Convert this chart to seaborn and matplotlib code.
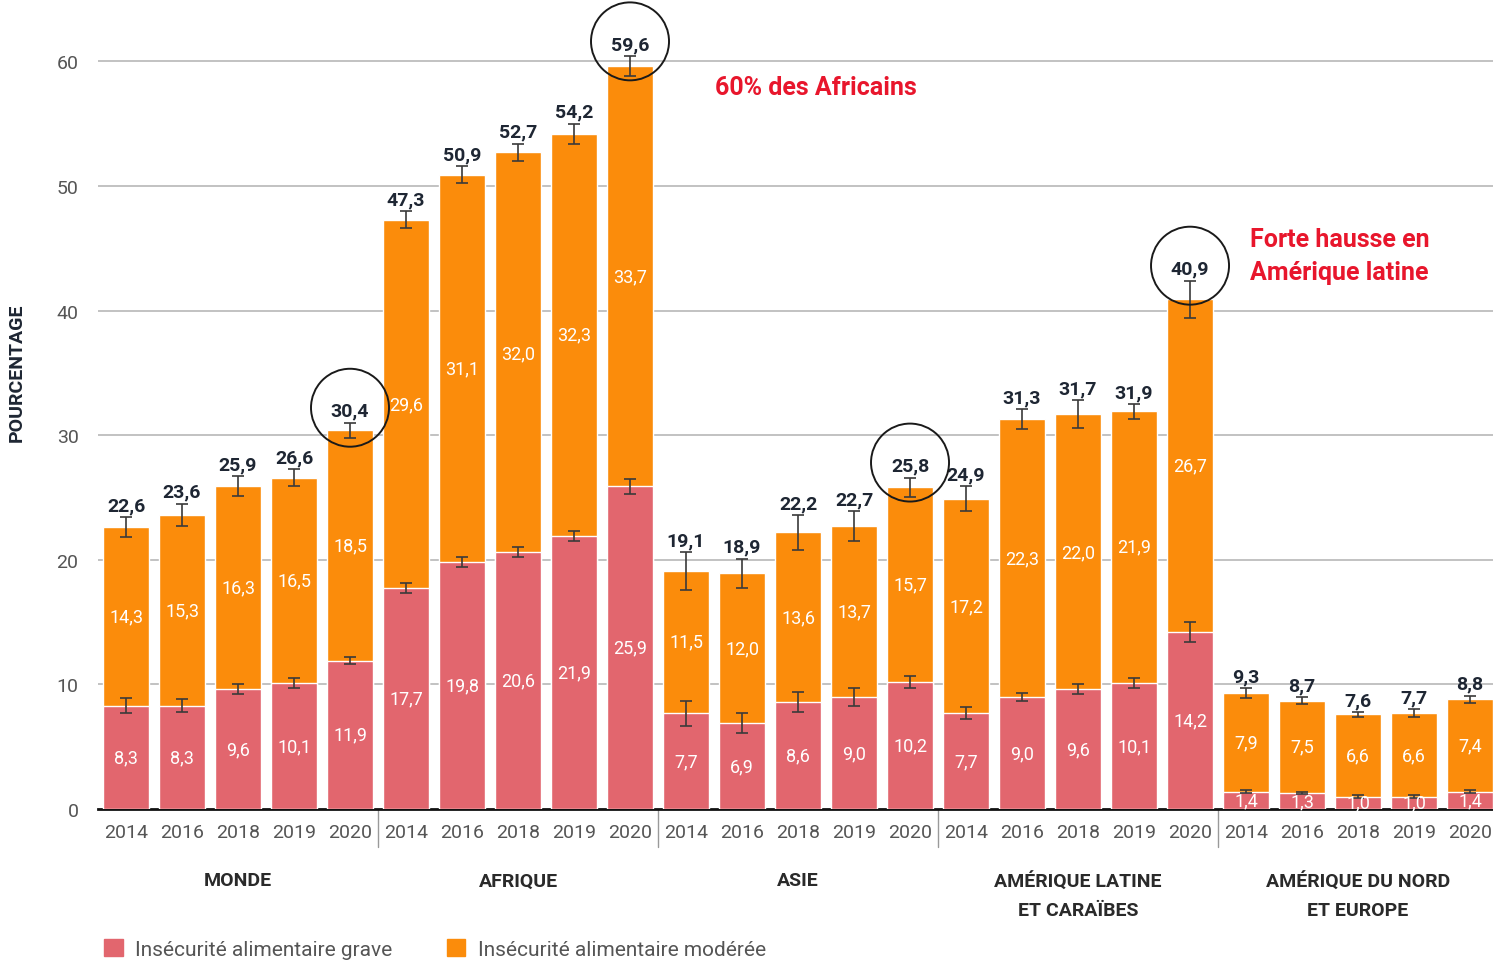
import matplotlib
matplotlib.use("Agg")
import matplotlib.pyplot as plt
from matplotlib.patches import Ellipse, Patch
from matplotlib.transforms import blended_transform_factory
import seaborn as sns
import pandas as pd
import numpy as np

# ---- data -------------------------------------------------------------
regions = ["MONDE", "AFRIQUE", "ASIE", "AMÉRIQUE LATINE\nET CARAÏBES",
           "AMÉRIQUE DU NORD\nET EUROPE"]
years = ["2014", "2016", "2018", "2019", "2020"]

grave = [8.3, 8.3, 9.6, 10.1, 11.9,
         17.7, 19.8, 20.6, 21.9, 25.9,
         7.7, 6.9, 8.6, 9.0, 10.2,
         7.7, 9.0, 9.6, 10.1, 14.2,
         1.4, 1.3, 1.0, 1.0, 1.4]
moderee = [14.3, 15.3, 16.3, 16.5, 18.5,
           29.6, 31.1, 32.0, 32.3, 33.7,
           11.5, 12.0, 13.6, 13.7, 15.7,
           17.2, 22.3, 22.0, 21.9, 26.7,
           7.9, 7.5, 6.6, 6.6, 7.4]
total = [22.6, 23.6, 25.9, 26.6, 30.4,
         47.3, 50.9, 52.7, 54.2, 59.6,
         19.1, 18.9, 22.2, 22.7, 25.8,
         24.9, 31.3, 31.7, 31.9, 40.9,
         9.3, 8.7, 7.6, 7.7, 8.8]
# margins of error (half-width) on the total and on the severe share
err_total = [0.8, 0.9, 0.8, 0.7, 0.6,
             0.7, 0.7, 0.7, 0.8, 0.8,
             1.5, 1.2, 1.4, 1.2, 0.8,
             1.0, 0.8, 1.1, 0.6, 1.5,
             0.4, 0.3, 0.2, 0.3, 0.3]
err_grave = [0.6, 0.5, 0.4, 0.4, 0.3,
             0.4, 0.4, 0.4, 0.4, 0.6,
             1.0, 0.8, 0.8, 0.7, 0.5,
             0.5, 0.3, 0.4, 0.4, 0.8,
             0.1, 0.1, 0.1, 0.1, 0.1]
circled = [4, 9, 14, 19]

# ---- style ------------------------------------------------------------
sns.set_theme(style="white")
plt.rcParams["font.family"] = ["Liberation Sans Narrow", "Roboto", "DejaVu Sans"]

col_grave = "#E2666E"
col_mod = "#FB8C0B"
col_text = "#1E2633"
col_grey = "#555555"

n = len(total)
df = pd.DataFrame({
    "pos": np.arange(n),
    "total": total,
    "grave": grave,
})

fig = plt.figure(figsize=(14.93, 9.62), dpi=100)
ax = fig.add_axes([98 / 1493, 152 / 962, 1 - 98 / 1493, 810 / 962])

for y in range(10, 70, 10):
    ax.axhline(y, color="#BDBDBD", lw=1.3, zorder=0)

sns.barplot(data=df, x="pos", y="total", order=list(range(n)), color=col_mod,
            width=0.82, saturation=1, errorbar=None, ax=ax, zorder=2)
sns.barplot(data=df, x="pos", y="grave", order=list(range(n)), color=col_grave,
            width=0.82, saturation=1, errorbar=None, ax=ax, zorder=3)

x = np.arange(n)
ekw = dict(fmt="none", ecolor="#3A3A3A", elinewidth=1.2, capsize=4,
           capthick=1.2, zorder=5)
ax.errorbar(x, total, yerr=err_total, **ekw)
ax.errorbar(x, grave, yerr=err_grave, **ekw)


def fr(v):
    return f"{v:.1f}".replace(".", ",")


for i in range(n):
    # inner segment values
    ax.text(i, grave[i] / 2, fr(grave[i]), ha="center", va="center",
            color="white", fontsize=13, zorder=6)
    ax.text(i, grave[i] + moderee[i] / 2, fr(moderee[i]), ha="center",
            va="center", color="white", fontsize=13, zorder=6)
    # total value above the bar
    ax.annotate(fr(total[i]), (i, total[i] + err_total[i]),
                xytext=(0, 2), textcoords="offset points", ha="center",
                va="bottom", color=col_text, fontsize=14, fontweight="bold",
                zorder=6)

# circles around the 2020 totals
for i in circled:
    cy = total[i] + err_total[i] + 1.2
    ax.add_patch(Ellipse((i, cy), width=78 / 56, height=78 / 12.47,
                         fill=False, edgecolor="#1A1A1A", lw=1.4, zorder=7,
                         clip_on=False))

# callouts
ax.text(10.52, 57.9, "60% des Africains", color="#E8162C", fontsize=18,
        fontweight="bold", ha="left", va="center")
ax.text(20.07, 44.4, "Forte hausse en\nAmérique latine", color="#E8162C",
        fontsize=18, fontweight="bold", ha="left", va="center",
        linespacing=1.45)

# axes
ax.set_xlim(-0.5, 24.41)
ax.set_ylim(0, 65)
ax.set_yticks(range(0, 70, 10))
ax.set_yticklabels([str(v) for v in range(0, 70, 10)], color=col_grey,
                   fontsize=14)
ax.set_xticks(x)
ax.set_xticklabels(years * len(regions), color=col_grey, fontsize=14)
ax.tick_params(axis="both", length=0)
ax.tick_params(axis="x", pad=10)
ax.tick_params(axis="y", pad=14)
ax.set_xlabel("")
ax.set_ylabel("POURCENTAGE", fontsize=14, fontweight="bold", color=col_text)
ax.yaxis.set_label_coords(-0.052, 0.54)
for s in ["left", "right", "top"]:
    ax.spines[s].set_visible(False)
ax.spines["bottom"].set_color("#111111")
ax.spines["bottom"].set_linewidth(2)

# region separators and names
tr = blended_transform_factory(ax.transData, ax.transAxes)
for b in [4.5, 9.5, 14.5, 19.5]:
    ax.plot([b, b], [0, -0.047], transform=tr, color="#9A9A9A", lw=1,
            clip_on=False)
for k, name in enumerate(regions):
    ax.text(k * 5 + 2, -0.077, name, transform=tr, ha="center", va="top",
            fontsize=14, fontweight="bold", color="#2A2A2A", linespacing=1.75)

handles = [Patch(color=col_grave, label="Insécurité alimentaire grave"),
           Patch(color=col_mod, label="Insécurité alimentaire modérée")]
leg = fig.legend(handles=handles, loc="lower left",
                 bbox_to_anchor=(0.057, -0.017), ncol=2, frameon=False,
                 fontsize=15, handlelength=0.9, handleheight=0.9,
                 columnspacing=2.6, handletextpad=0.6)
for t in leg.get_texts():
    t.set_color(col_grey)

fig.savefig("out.png", dpi=100)
